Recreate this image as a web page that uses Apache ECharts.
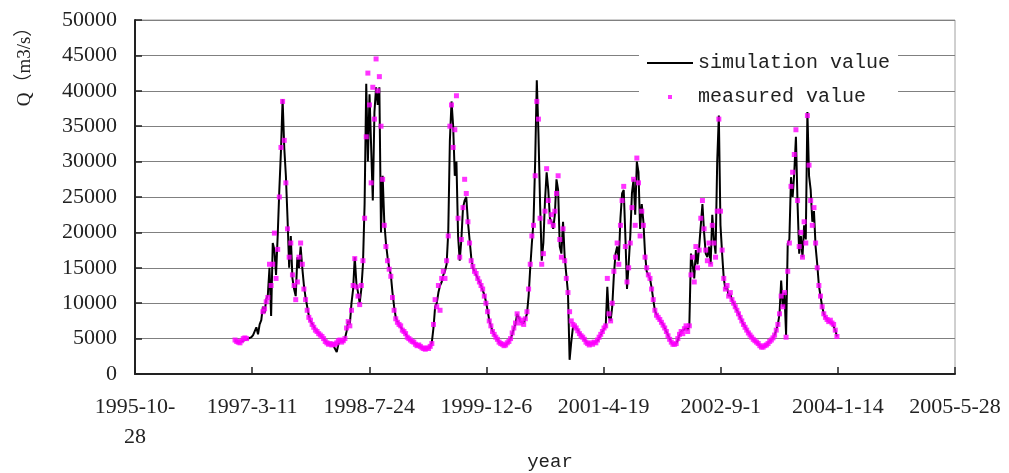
<!DOCTYPE html>
<html>
<head>
<meta charset="utf-8">
<script src="https://cdn.jsdelivr.net/npm/echarts@6/dist/echarts.min.js"></script>
<style>
  html, body { margin: 0; padding: 0; background: #fff; }
  #chart { width: 1009px; height: 473px; }
</style>
</head>
<body>
<div id="chart"></div>
<script>
// x axis counts days from axisStart, one tick every 500 days
const tickLabels = ['1995-10-\n28', '1997-3-11', '1998-7-24', '1999-12-6', '2001-4-19', '2002-9-1', '2004-1-14', '2005-5-28'];
const axisStart = '1995-10-28';
const firstSample = '1996-12-28';
const stepDays = 7;

// flow Q (m3/s), one value per week
const simulated = [
  4700, 4600, 4500, 4400, 4600, 4700, 4800, 4900, 5000, 5100,
  5200, 5500, 5400, 6600, 5600, 7000, 7600, 9500, 8600, 10500,
  11200, 15000, 8200, 18500, 17500, 14000, 19500, 26000, 31500, 38800,
  32000, 28000, 22000, 15000, 19500, 13500, 12000, 11000, 16500, 15000,
  18000, 15000, 12500, 10800, 9500, 8200, 7500, 7100, 6700, 6300,
  6000, 5800, 5500, 5300, 5000, 4700, 4400, 4200, 4200, 4100,
  4000, 3800, 3100, 4200, 4700, 4500, 4600, 5000, 6000, 7500,
  7000, 10000, 12000, 16500, 12800, 11500, 10000, 12000, 15500, 24000,
  41000, 30000, 39500, 32000, 24500, 37000, 40500, 38000, 40500, 20000,
  28000, 21500, 18500, 16500, 15000, 14000, 11500, 9500, 8000, 7400,
  7000, 6800, 6300, 6000, 5700, 5300, 5000, 4800, 4600, 4400,
  4300, 4000, 4100, 3900, 3800, 3600, 3500, 3600, 3700, 3800,
  4500, 6500, 9500, 10000, 11500, 12500, 13000, 14000, 14500, 15500,
  20000, 33000, 38500, 35000, 28000, 30000, 19500, 16000, 19000, 23500,
  24500, 25000, 21500, 19000, 16500, 15000, 14500, 14000, 13800, 13000,
  12500, 11800, 11200, 10200, 9000, 7600, 6800, 6100, 5600, 5200,
  4900, 4500, 4300, 4100, 4000, 4100, 4300, 4600, 5000, 5600,
  6400, 7000, 8500, 8000, 7400, 7500, 7200, 7800, 8500, 11000,
  15000, 18500, 21500, 30000, 41500, 34000, 24000, 16000, 18500, 24500,
  28500, 26000, 22000, 21500, 20500, 22500, 27500, 26000, 18000, 17000,
  21500, 16500, 14000, 11500, 2000, 4500, 6500, 6800, 6500, 6200,
  5800, 5500, 5200, 4900, 4600, 4300, 4100, 4300, 4200, 4400,
  4400, 4700, 5100, 5500, 6000, 6400, 6700, 12300, 8000, 7500,
  9500, 14000, 17000, 18000, 16000, 22000, 25500, 26000, 19500, 12000,
  15500, 19500, 25500, 27500, 22500, 30000, 28500, 20500, 24000, 21500,
  17000, 14500, 14300, 13500, 12200, 10500, 9000, 8400, 8000, 7600,
  7300, 7000, 6500, 6000, 5500, 5000, 4500, 4200, 4200, 4300,
  4800, 5500, 6000, 5800, 6300, 6600, 6200, 6800, 17000, 15500,
  13500, 17500, 15500, 18000, 21000, 24000, 20000, 17000, 16500, 18000,
  15500, 22500, 19000, 17000, 30000, 36500, 21000, 17000, 13500, 12000,
  12300, 11000, 11300, 10500, 10000, 9500, 9000, 8600, 8000, 7500,
  7000, 6700, 6200, 5900, 5500, 5200, 5000, 4700, 4500, 4300,
  4000, 3800, 3800, 3900, 4100, 4300, 4600, 4800, 5100, 5500,
  6200, 7000, 8500, 13200, 9500, 11500, 5500, 18400, 19000, 27800,
  25000, 28500, 33500, 24000, 17000, 19500, 16500, 21000, 19000, 37000,
  28000, 26000, 21500, 23000, 18000, 15500, 12500, 11000, 9500, 8500,
  8000, 7700, 7400, 7600, 7200, 7000, 6200, 5300
];

const measured = [
  4800, 4600, 4500, 4400, 4700, 5000, 5100, 5000, null, null,
  null, null, null, null, null, null, null, 8800, 9200, 10200,
  10800, 15500, 12500, 15500, 19900, 13500, 17600, 25000, 32000, 38500,
  33000, 27000, 20500, 16500, 18500, 14000, 12500, 10500, 13000, 16500,
  18500, 15500, 12000, 10500, 9000, 8000, 7600, 7000, 6600, 6200,
  6000, 5700, 5500, 5300, 5000, 4600, 4400, 4200, 4300, 4100,
  4200, 4200, 4400, 4700, 4800, 4500, 4700, 5000, 6500, 7400,
  6800, 9000, 12500, 16300, 12300, 11000, 9800, 12500, 16000, 22000,
  33500, 42500, 38000, 27000, 40500, 36000, 44500, 40000, 42000, 35000,
  27500, 21000, 18000, 16000, 14800, 13800, 10800, 9000, 7800, 7300,
  7000, 6800, 6200, 6000, 5700, 5200, 5000, 4800, 4600, 4500,
  4200, 4000, 4100, 3900, 3700, 3600, 3500, 3700, 3600, 3900,
  4300, 7000, 10500, 9500, 12500, 9000, 13500, 14500, 13500, 16000,
  19500, 35000, 38000, 32000, 34500, 39300, 22000, 16500, 19000, 23500,
  27500, 25500, 21500, 18500, 16000, 15200, 14500, 14200, 13500, 13000,
  12500, 12000, 11000, 10000, 8800, 7500, 6800, 6000, 5600, 5200,
  4900, 4500, 4300, 4200, 4000, 4100, 4400, 4600, 5000, 5800,
  6500, 7200, 8500, 7800, 7200, 7600, 7000, 7800, 8800, 12000,
  15500, 19500, 21000, 28000, 38500, 36000, 22000, 15500, 17000, 23000,
  29000, 24500, 21500, 22500, 21000, 23000, 25500, 28000, 19000, 16500,
  20500, 16000, 13500, 11500, 8800, 7500, 7000, 6800, 6500, 6100,
  5700, 5400, 5200, 4900, 4500, 4300, 4100, 4400, 4200, 4500,
  4400, 4800, 5200, 5600, 6000, 6500, 6800, 13500, 8500, 7500,
  10000, 14500, 16500, 18500, 15500, 21000, 24500, 26500, 18000, 13000,
  15000, 18500, 23500, 27500, 21000, 30500, 27000, 19500, 23000, 21000,
  16500, 15000, 14000, 13500, 12000, 10500, 9000, 8300, 8000, 7700,
  7300, 6900, 6500, 6000, 5400, 4900, 4500, 4200, 4200, 4300,
  5000, 5600, 6000, 5700, 6400, 6800, 6000, 6800, 14000, 16500,
  13000, 18000, 15000, 17500, 22000, 24500, 20500, 17500, 16000, 18500,
  15500, 21000, 18500, 16500, 23000, 36000, 23000, 17500, 13500, 12000,
  12500, 11000, 11500, 10500, 10000, 9500, 9000, 8500, 8000, 7500,
  7000, 6600, 6200, 5800, 5500, 5200, 4900, 4700, 4500, 4300,
  4000, 3800, 3800, 4000, 4100, 4300, 4600, 4800, 5100, 5500,
  6200, 7000, 8500, 11000, 9500, 11500, 5200, 14500, 18500, 26500,
  28500, 31000, 34500, 24500, 18000, 20000, 16500, 21500, 18500, 36500,
  29500, 24500, 21000, 23500, 18500, 15000, 12500, 11000, 9500, 8500,
  8000, 7700, 7400, 7600, 7200, 7000, 6200, 5300
];

const dayMs = 86400000;
const offset = (Date.parse(firstSample) - Date.parse(axisStart)) / dayMs;
const simData = simulated.map((v, i) => [offset + i * stepDays, v]);
const measData = measured.map((v, i) => [offset + i * stepDays, v]).filter(d => d[1] != null);

const chart = echarts.init(document.getElementById('chart'));
chart.setOption({
  animation: false,
  backgroundColor: '#fff',
  grid: { left: 135, right: 54, top: 20, bottom: 99, show: true, borderColor: '#a0a0a0', borderWidth: 1 },
  xAxis: {
    type: 'value', min: 0, max: 3500, interval: 500,
    axisLine: { lineStyle: { color: '#222', width: 2 } },
    axisTick: { inside: true, length: 7, lineStyle: { color: '#222', width: 1.5 } },
    axisLabel: {
      formatter: v => tickLabels[Math.round(v / 500)],
      fontFamily: 'Liberation Serif', fontSize: 22, lineHeight: 30, color: '#222', margin: 18
    },
    splitLine: { show: false }
  },
  yAxis: {
    type: 'value', min: 0, max: 50000, interval: 5000,
    axisLine: { show: true, lineStyle: { color: '#222', width: 2 } },
    axisTick: { show: true, inside: true, length: 7, lineStyle: { color: '#222', width: 1.5 } },
    axisLabel: { formatter: v => String(v), fontFamily: 'Liberation Serif', fontSize: 22, color: '#222', margin: 18 },
    splitLine: { lineStyle: { color: '#808080', width: 1 } }
  },
  legend: {
    orient: 'vertical', left: 639, top: 40, padding: [13, 8, 5, 8],
    backgroundColor: '#fff',
    itemWidth: 46, itemHeight: 14, itemGap: 14,
    textStyle: { fontFamily: 'Liberation Mono', fontSize: 20, lineHeight: 20, color: '#222' },
    data: [
      { name: 'simulation value', icon: 'path://M0,0M46,14M0,6h46v2h-46z', itemStyle: { color: '#000' } },
      { name: 'measured value', icon: 'path://M0,0M46,14M21,5h4v4h-4z' }
    ]
  },
  graphic: [
    {
      type: 'text', x: 25, y: 62, rotation: Math.PI / 2,
      style: { text: 'Q（m3/s）', fontFamily: 'Liberation Serif, "Noto Sans CJK SC"', fontSize: 19, fill: '#222', align: 'center', verticalAlign: 'middle' }
    },
    {
      type: 'text', x: 550, y: 462,
      style: { text: 'year', fontFamily: 'Liberation Mono', fontSize: 19, fill: '#222', align: 'center', verticalAlign: 'middle' }
    }
  ],
  series: [
    {
      name: 'simulation value', type: 'line', data: simData, symbol: 'none', z: 2,
      lineStyle: { color: '#000', width: 2 }, itemStyle: { color: '#000' }
    },
    {
      name: 'measured value', type: 'scatter', data: measData, symbol: 'rect', symbolSize: 5, z: 3,
      itemStyle: { color: '#ff00ff' }
    }
  ]
});
</script>
</body>
</html>
